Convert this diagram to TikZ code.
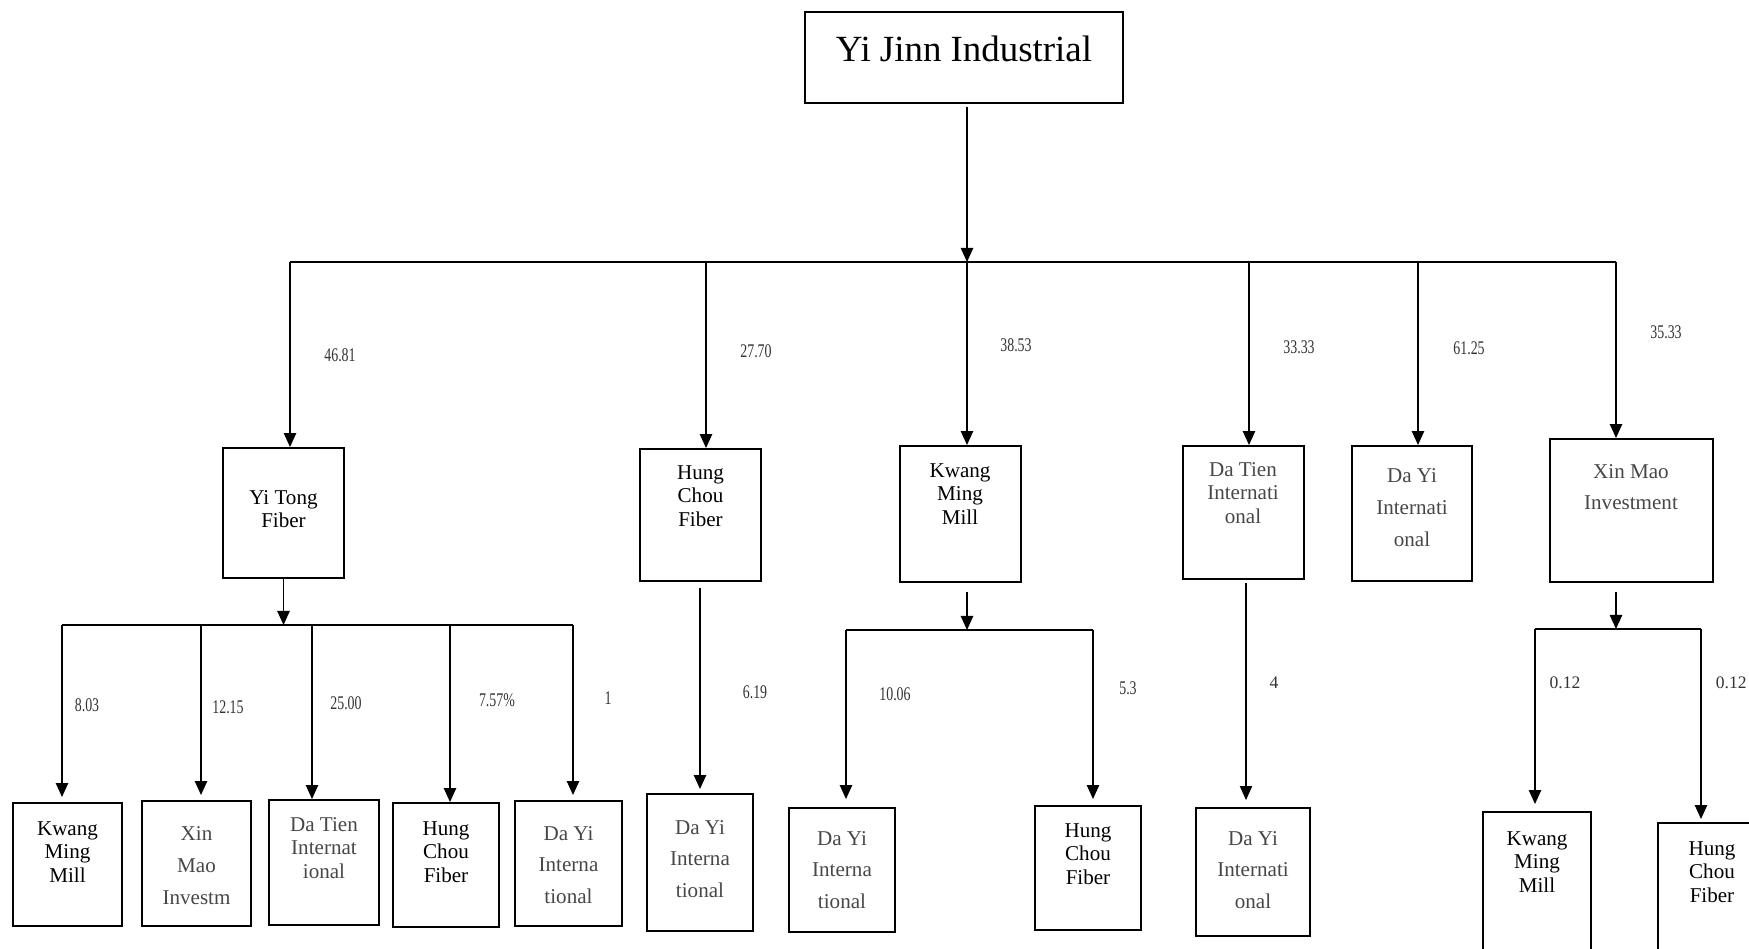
\documentclass[tikz,border=0pt]{standalone}
\usepackage{fontspec}
\setmainfont{Liberation Serif}
\usepackage{graphicx}
\usetikzlibrary{positioning,arrows.meta}

\newcommand{\cnd}[1]{\scalebox{0.72}[1]{#1}}

\begin{document}
\begin{tikzpicture}[
    x=0.02cm, y=-0.02cm,
    box/.style={rectangle, draw, line width=1.1pt, inner sep=0pt},
    firm/.style={align=center, font=\fontsize{12}{13.5}\selectfont},
    firmwide/.style={align=center, font=\fontsize{12}{18}\selectfont},
    softtext/.style={text=black!72},
    pct/.style={font=\fontsize{11}{12}\selectfont, text=black!80},
    arrow/.style={-{Triangle[width=7pt,length=8pt]}, line width=1pt},
    bus/.style={line width=0.9pt}
]
\clip (0,0) rectangle (1749,948);

% Top company
\node[box, minimum width=6.36cm, minimum height=1.82cm] (yj) at (964,57.5) {};
\node[font=\fontsize{21}{25}\selectfont] (yj-t) at (964,49) {Yi Jinn Industrial};

% First level boxes
\node[box, minimum width=2.42cm, minimum height=2.60cm] (ytf) at (283.5,513) {};
\node[firm] (ytf-t) at (283.5,509) {Yi Tong\\Fiber};
\node[box, minimum width=2.42cm, minimum height=2.64cm] (hcf) at (700.5,515) {};
\node[firm] (hcf-t) at (700.5,496) {Hung\\Chou\\Fiber};
\node[box, minimum width=2.42cm, minimum height=2.72cm] (kmm) at (960.5,514) {};
\node[firm] (kmm-t) at (960,494) {Kwang\\Ming\\Mill};
\node[box, minimum width=2.42cm, minimum height=2.66cm] (dti) at (1243.5,512.5) {};
\node[firm, softtext] (dti-t) at (1243,493) {Da Tien\\Internati\\onal};
\node[box, minimum width=2.40cm, minimum height=2.70cm] (dyi) at (1412,513.5) {};
\node[firmwide, softtext] (dyi-t) at (1412,507.5) {Da Yi\\Internati\\onal};
\node[box, minimum width=3.26cm, minimum height=2.86cm] (xmi) at (1631.5,510.5) {};
\node[firmwide, softtext] (xmi-t) at (1631,487) {Xin Mao\\Investment};

% Second level boxes
\node[box, minimum width=2.18cm, minimum height=2.46cm] (kmm2) at (67.5,864.5) {};
\node[firm] (kmm2-t) at (67.5,852) {Kwang\\Ming\\Mill};
\node[box, minimum width=2.18cm, minimum height=2.50cm] (xmi2) at (196.5,863.5) {};
\node[firmwide, softtext] (xmi2-t) at (196.5,865.5) {Xin\\Mao\\Investm};
\node[box, minimum width=2.20cm, minimum height=2.50cm] (dti2) at (324,862.5) {};
\node[firm, softtext] (dti2-t) at (324,848) {Da Tien\\Internat\\ional};
\node[box, minimum width=2.12cm, minimum height=2.48cm] (hcf2) at (446,865) {};
\node[firm] (hcf2-t) at (446,852) {Hung\\Chou\\Fiber};
\node[box, minimum width=2.14cm, minimum height=2.50cm] (dyi2) at (568.5,863.5) {};
\node[firmwide, softtext] (dyi2-t) at (568.5,865) {Da Yi\\Interna\\tional};
\node[box, minimum width=2.12cm, minimum height=2.74cm] (dyi3) at (700,862.5) {};
\node[firmwide, softtext] (dyi3-t) at (700,859) {Da Yi\\Interna\\tional};
\node[box, minimum width=2.12cm, minimum height=2.48cm] (dyi4) at (842,870) {};
\node[firmwide, softtext] (dyi4-t) at (842,870) {Da Yi\\Interna\\tional};
\node[box, minimum width=2.12cm, minimum height=2.48cm] (hcf3) at (1088,868) {};
\node[firm] (hcf3-t) at (1088,854) {Hung\\Chou\\Fiber};
\node[box, minimum width=2.28cm, minimum height=2.56cm] (dyi5) at (1253,872) {};
\node[firmwide, softtext] (dyi5-t) at (1253,870) {Da Yi\\Internati\\onal};
\node[box, minimum width=2.16cm, minimum height=3.16cm] (kmm3) at (1537,891) {};
\node[firm] (kmm3-t) at (1537,862) {Kwang\\Ming\\Mill};
\node[box, minimum width=2.16cm, minimum height=2.94cm] (hcf4) at (1712,896.5) {};
\node[firm] (hcf4-t) at (1712,872) {Hung\\Chou\\Fiber};

% Top bus
\coordinate (t1) at (290,262);
\coordinate (t2) at (706,262);
\coordinate (t3) at (967,262);
\coordinate (t4) at (1249,262);
\coordinate (t5) at (1418,262);
\coordinate (t6) at (1616,262);
\draw[arrow] ([yshift=-0.06cm]yj.south -| t3) -- (t3);
\draw[bus] (t1) -- (t6);
\draw[arrow] (t1) -- (t1 |- ytf.north);
\draw[arrow] (t2) -- (t2 |- hcf.north);
\draw[arrow] (t3) -- (t3 |- kmm.north);
\draw[arrow] (t4) -- (t4 |- dti.north);
\draw[arrow] (t5) -- (t5 |- dyi.north);
\draw[arrow] (t6) -- (t6 |- xmi.north);

% Yi Tong Fiber holdings
\coordinate (y0) at (283.5,625);
\coordinate (y1) at (62,625);
\coordinate (y2) at (201,625);
\coordinate (y3) at (312,625);
\coordinate (y4) at (450,625);
\coordinate (y5) at (573,625);
\draw[arrow] (ytf.south) -- (y0);
\draw[bus] (y1) -- (y5);
\draw[arrow] (y1) -- ([yshift=0.1cm]y1 |- kmm2.north);
\draw[arrow] (y2) -- ([yshift=0.1cm]y2 |- xmi2.north);
\draw[arrow] (y3) -- (y3 |- dti2.north);
\draw[arrow] (y4) -- (y4 |- hcf2.north);
\draw[arrow] (y5) -- ([yshift=0.1cm]y5 |- dyi2.north);

% Hung Chou Fiber holdings
\draw[arrow] ([yshift=-0.12cm]hcf.south -| dyi3.north) -- ([yshift=0.08cm]dyi3.north);

% Kwang Ming Mill holdings
\coordinate (k0) at (967,630);
\coordinate (k1) at (846,630);
\coordinate (k2) at (1093,630);
\draw[arrow] ([yshift=-0.18cm]kmm.south -| k0) -- (k0);
\draw[bus] (k1) -- (k2);
\draw[arrow] (k1) -- ([yshift=0.16cm]k1 |- dyi4.north);
\draw[arrow] (k2) -- ([yshift=0.12cm]k2 |- hcf3.north);

% Da Tien International holdings
\coordinate (d0) at (1246,583);
\draw[arrow, line width=0.6pt] (d0) -- ([yshift=0.14cm]d0 |- dyi5.north);

% Xin Mao Investment holdings
\coordinate (x0) at (1616,629);
\coordinate (x1) at (1535,629);
\coordinate (x2) at (1701,629);
\draw[arrow] ([yshift=-0.18cm]xmi.south -| x0) -- (x0);
\draw[bus] (x1) -- (x2);
\draw[arrow] (x1) -- ([yshift=0.14cm]x1 |- kmm3.north);
\draw[arrow] (x2) -- ([yshift=0.06cm]x2 |- hcf4.north);

% Shareholding labels
\node[pct] (p1) at (340,355) {\cnd{46.81}};
\node[pct] (p2) at (756,351) {\cnd{27.70}};
\node[pct] (p3) at (1016,345) {\cnd{38.53}};
\node[pct] (p4) at (1299,347) {\cnd{33.33}};
\node[pct] (p5) at (1469,348) {\cnd{61.25}};
\node[pct] (p6) at (1666,332) {\cnd{35.33}};
\node[pct] (p7) at (87,705) {\cnd{8.03}};
\node[pct] (p8) at (228,707) {\cnd{12.15}};
\node[pct] (p9) at (346,703) {\cnd{25.00}};
\node[pct] (p10) at (497,700) {\cnd{7.57\%}};
\node[pct] (p11) at (608,698) {\cnd{1}};
\node[pct] (p12) at (755,692) {\cnd{6.19}};
\node[pct] (p13) at (895,694) {\cnd{10.06}};
\node[pct] (p14) at (1128,688) {\cnd{5.3}};
\node[pct, font=\fontsize{10}{12}\selectfont] (p15) at (1274,683) {4};
\node[pct, font=\fontsize{10}{12}\selectfont] (p16) at (1565,683) {0.12};
\node[pct, font=\fontsize{10}{12}\selectfont, anchor=east, inner sep=0pt] (p17) at (1747,683) {0.12};

\end{tikzpicture}
\end{document}
